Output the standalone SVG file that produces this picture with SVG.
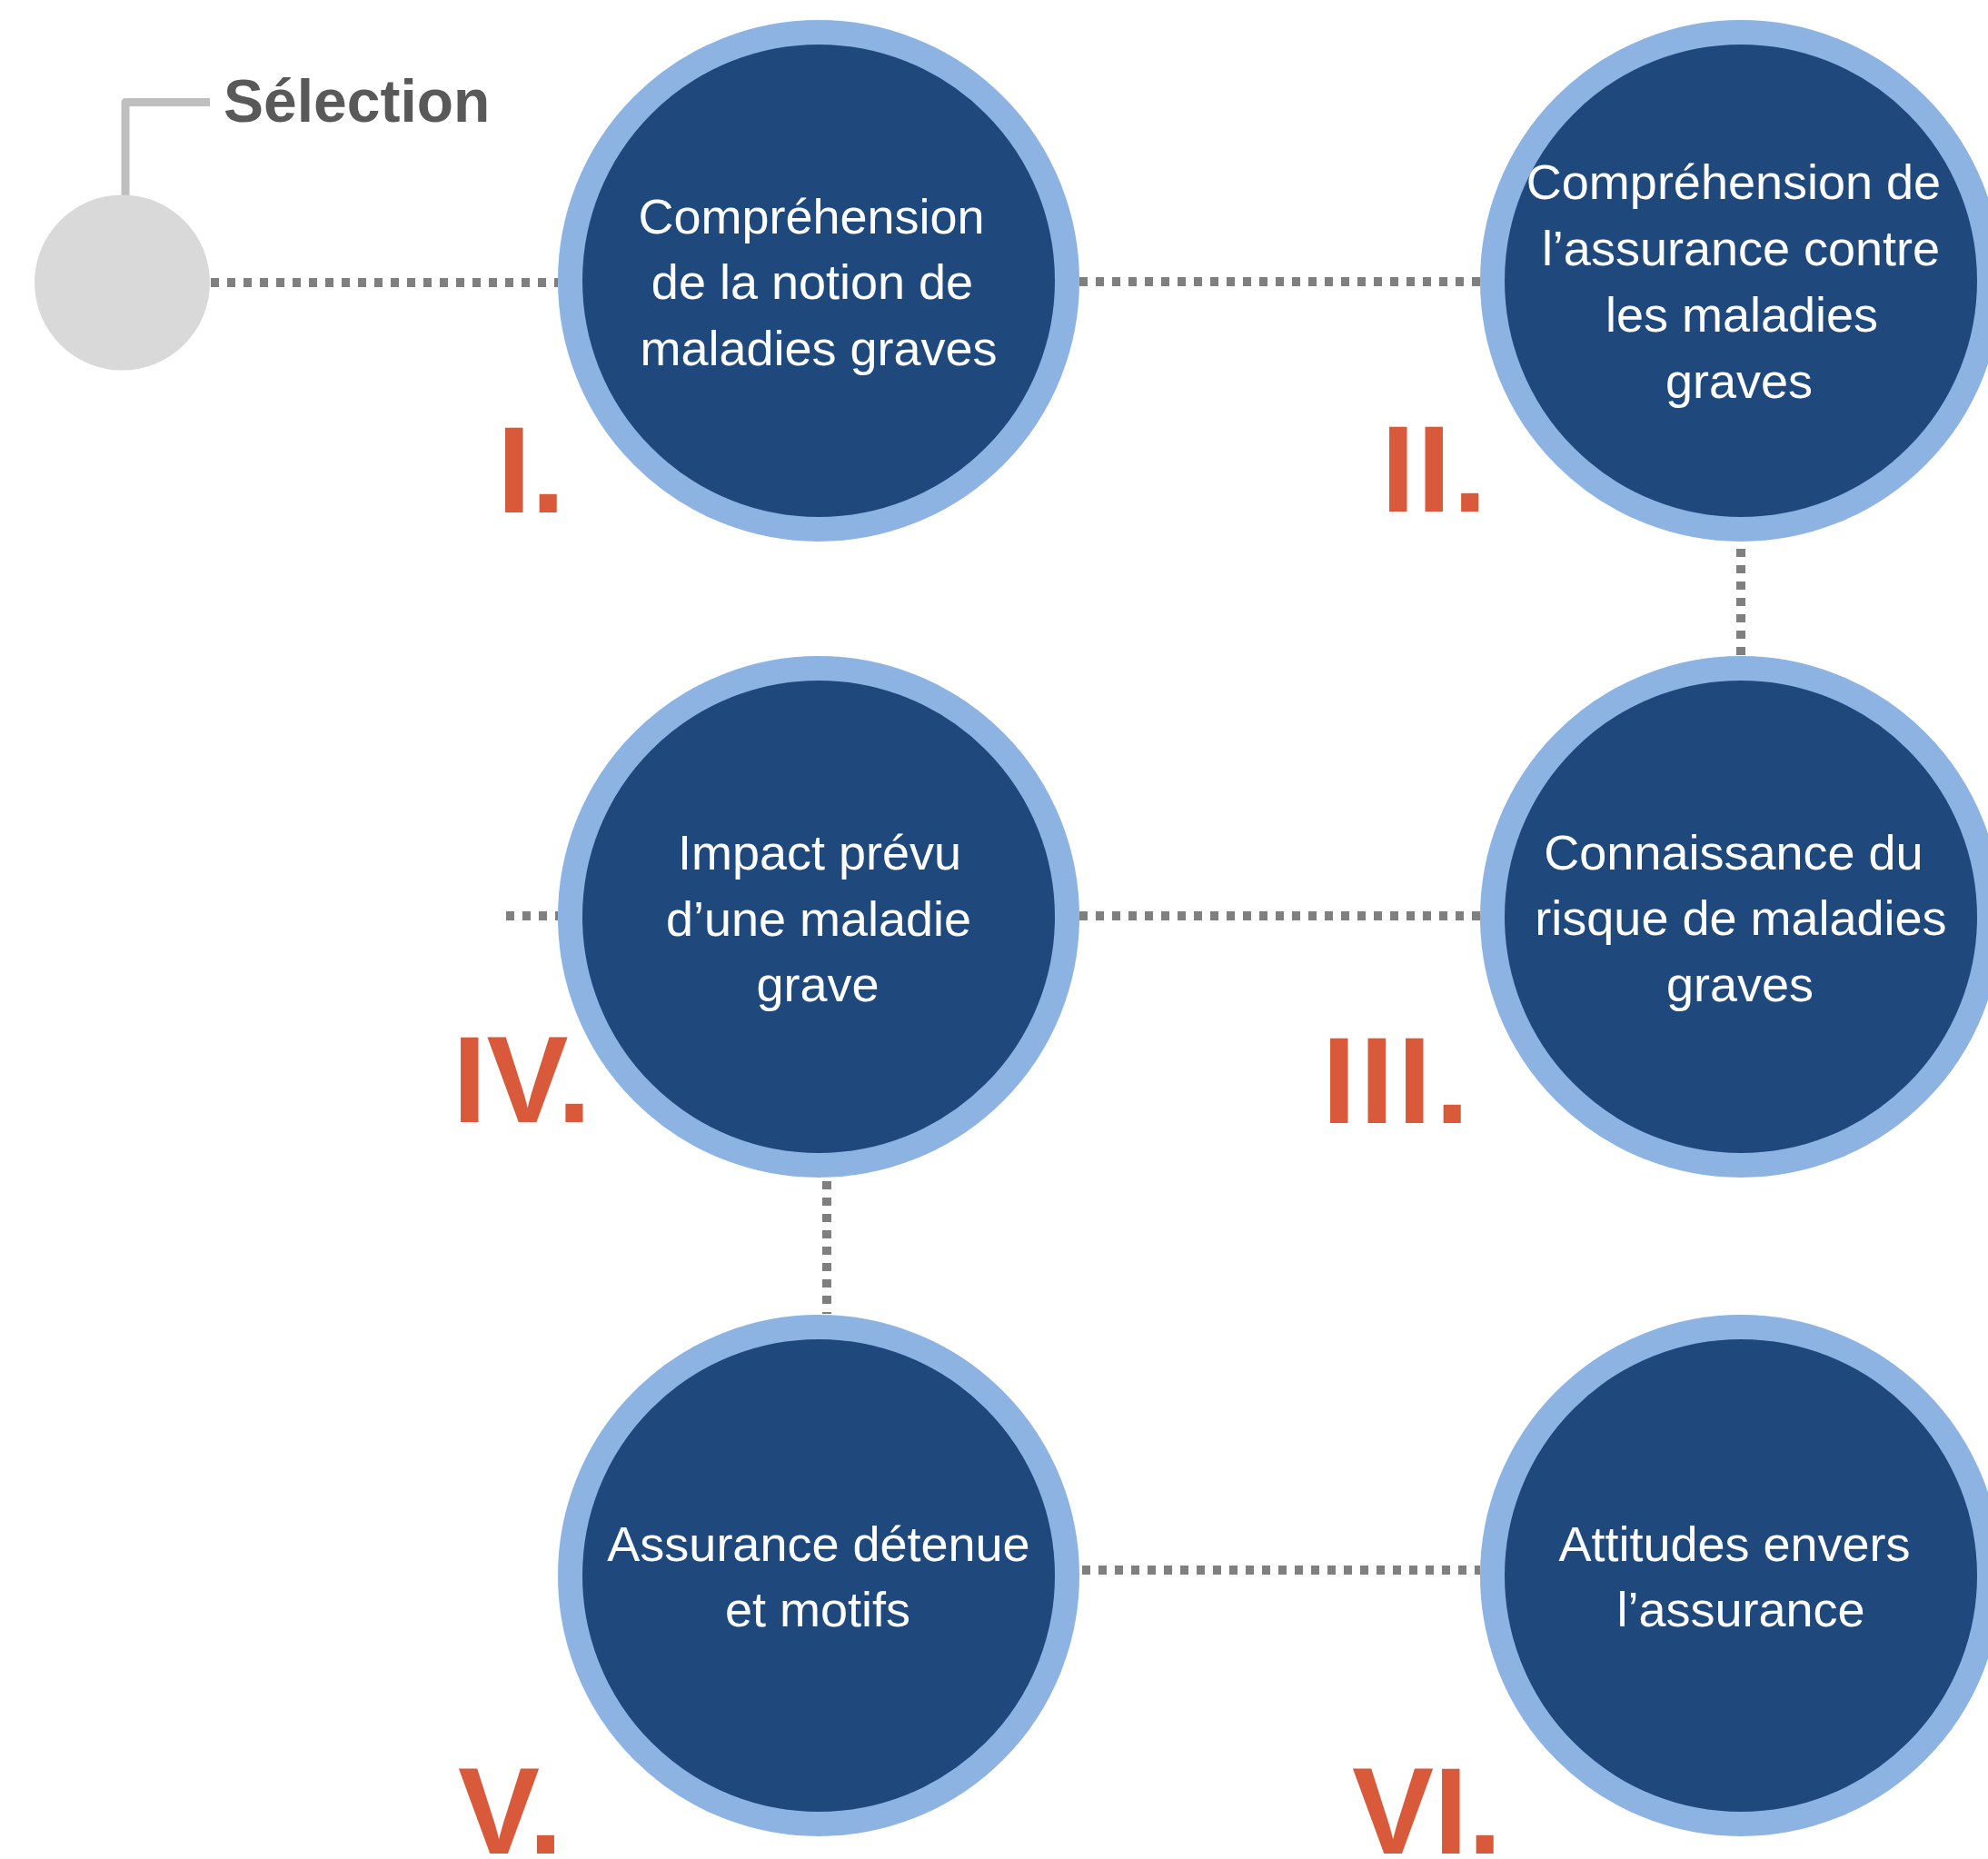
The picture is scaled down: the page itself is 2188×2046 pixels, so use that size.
<svg xmlns="http://www.w3.org/2000/svg" width="2188" height="2046" viewBox="0 0 2188 2046">
  <style>
    .ring { fill: #1f497d; stroke: #8db3e2; stroke-width: 27; }
    .dot { fill: none; stroke: #7f7f7f; stroke-width: 10; stroke-dasharray: 9 9; }
    .lbl { font-family: "Liberation Sans", Arial, sans-serif; font-size: 54px; fill: #ffffff; text-anchor: middle; }
    .num { font-family: "Liberation Sans", Arial, sans-serif; font-size: 135px; font-weight: bold; fill: #d95a3a; }
  </style>
  <rect width="2188" height="2046" fill="#ffffff"/>
  <g id="connectors">
    <line class="dot" x1="232" y1="311" x2="614" y2="311"/>
    <line class="dot" x1="1188" y1="310" x2="1629" y2="310"/>
    <line class="dot" x1="1916" y1="604" x2="1916" y2="722"/>
    <line class="dot" x1="1188" y1="1008" x2="1629" y2="1008"/>
    <line class="dot" x1="557" y1="1008" x2="614" y2="1008"/>
    <line class="dot" x1="910" y1="1300" x2="910" y2="1446"/>
    <line class="dot" x1="1191" y1="1728" x2="1629" y2="1728"/>
    <polyline points="138,215 138,112.5 231,112.5" fill="none" stroke="#bfbfbf" stroke-width="9" stroke-linejoin="round"/>
  </g>
  <g id="selection">
    <circle cx="134.5" cy="311" r="96.5" fill="#d9d9d9"/>
    <text x="246" y="134" font-family="'Liberation Sans', Arial, sans-serif" font-size="66" font-weight="bold" fill="#595959">Sélection</text>
  </g>
  <g id="node1">
    <circle class="ring" cx="901" cy="309" r="273.5"/>
    <text class="lbl" x="893" y="257">Compréhension</text>
    <text class="lbl" x="894" y="329">de la notion de</text>
    <text class="lbl" x="901" y="402">maladies graves</text>
    <text class="num" x="547" y="564">I.</text>
  </g>
  <g id="node2">
    <circle class="ring" cx="1916" cy="309" r="273.5"/>
    <text class="lbl" x="1908" y="219">Compréhension de</text>
    <text class="lbl" x="1916" y="292">l’assurance contre</text>
    <text class="lbl" x="1917" y="365">les maladies</text>
    <text class="lbl" x="1914" y="438">graves</text>
    <text class="num" x="1520" y="563" letter-spacing="2">II.</text>
  </g>
  <g id="node3">
    <circle class="ring" cx="1916" cy="1009" r="273.5"/>
    <text class="lbl" x="1908" y="957">Connaissance du</text>
    <text class="lbl" x="1916" y="1029">risque de maladies</text>
    <text class="lbl" x="1915" y="1102">graves</text>
    <text class="num" x="1455" y="1236" letter-spacing="4">III.</text>
  </g>
  <g id="node4">
    <circle class="ring" cx="901" cy="1009" r="273.5"/>
    <text class="lbl" x="902" y="957">Impact prévu</text>
    <text class="lbl" x="901" y="1030">d’une maladie</text>
    <text class="lbl" x="900" y="1102">grave</text>
    <text class="num" x="498" y="1235">IV.</text>
  </g>
  <g id="node5">
    <circle class="ring" cx="901" cy="1734" r="273.5"/>
    <text class="lbl" x="901" y="1718">Assurance détenue</text>
    <text class="lbl" x="900" y="1790">et motifs</text>
    <text class="num" x="504" y="2040">V.</text>
  </g>
  <g id="node6">
    <circle class="ring" cx="1916" cy="1734" r="273.5"/>
    <text class="lbl" x="1909" y="1718">Attitudes envers</text>
    <text class="lbl" x="1916" y="1790">l’assurance</text>
    <text class="num" x="1488" y="2040">VI.</text>
  </g>
</svg>
